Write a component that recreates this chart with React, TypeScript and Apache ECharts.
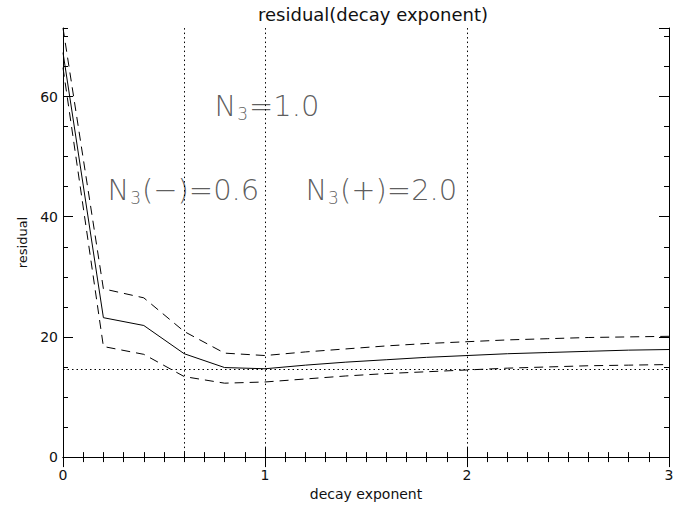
import React, { useEffect, useRef } from "react";
import * as echarts from "echarts";

const xValues = [0, 0.2, 0.4, 0.6, 0.8, 1.0, 1.2, 1.4, 1.6, 1.8, 2.0, 2.2, 2.4, 2.6, 2.8, 3.0];
const residual = [67.3, 23.2, 21.9, 17.2, 14.9, 14.7, 15.3, 15.8, 16.2, 16.6, 16.9, 17.2, 17.4, 17.6, 17.8, 17.9];
const residualUpper = [71.4, 28.0, 26.5, 20.9, 17.3, 16.9, 17.5, 18.0, 18.5, 18.9, 19.2, 19.5, 19.7, 19.9, 20.0, 20.1];
const residualLower = [64.8, 18.4, 17.1, 13.4, 12.3, 12.5, 13.0, 13.5, 13.9, 14.2, 14.5, 14.8, 15.0, 15.2, 15.3, 15.4];
const verticalMarks = [0.6, 1.0, 2.0];
const minResidual = 14.7;
const yMax = 71.4;
const annotations = [
  { x: 0.75, y: 58.5, text: "{n|N}{s|3}{n|=1.0}" },
  { x: 0.22, y: 44.5, text: "{n|N}{s|3}{n|(−)=0.6}" },
  { x: 1.2, y: 44.5, text: "{n|N}{s|3}{n|(+)=2.0}" },
];

const FONT = "DejaVu Sans";
const THIN_FONT = "'DejaVu Sans ExtraLight', 'DejaVu Sans'";

export default function App() {
  const ref = useRef<HTMLDivElement>(null);
  useEffect(() => {
    const chart = echarts.init(ref.current!, null, { renderer: "svg" });
    const pair = (ys: number[]) => xValues.map((x, i) => [x, ys[i]]);
    const black = "#000";
    const axisText = { color: "#111", fontFamily: FONT, fontSize: 14 };
    const xBase = {
      type: "value",
      min: 0,
      max: 3,
      interval: 1,
      axisLine: { show: true, lineStyle: { color: black, width: 1 } },
      axisTick: { show: true, inside: true, length: 10, lineStyle: { color: black } },
      minorTick: { show: true, splitNumber: 10, length: 5, lineStyle: { color: black } },
      splitLine: { show: false },
    };
    const yMajor = {
      type: "value",
      min: 0,
      max: yMax,
      interval: 20,
      axisLine: { show: true, lineStyle: { color: black, width: 1 } },
      axisTick: { show: true, inside: true, length: 10, lineStyle: { color: black } },
      splitLine: { show: false },
    };
    const yMinor = {
      type: "value",
      min: 0,
      max: yMax,
      interval: 5,
      axisLine: { show: false },
      axisTick: { show: true, inside: true, length: 5, lineStyle: { color: black } },
      axisLabel: { show: false },
      splitLine: { show: false },
    };
    chart.setOption({
      animation: false,
      backgroundColor: "#fff",
      title: {
        text: "residual(decay exponent)",
        left: 368,
        textAlign: "center",
        top: 0,
        textStyle: { color: "#111", fontFamily: FONT, fontSize: 18, fontWeight: "normal" },
      },
      grid: { left: 63, right: 21, top: 28, bottom: 47 },
      xAxis: [
        {
          ...xBase,
          position: "bottom",
          name: "decay exponent",
          nameLocation: "middle",
          nameGap: 28,
          nameTextStyle: { ...axisText },
          axisLabel: { ...axisText, margin: 11 },
        },
        { ...xBase, position: "top", axisLabel: { show: false } },
      ],
      yAxis: [
        {
          ...yMajor,
          position: "left",
          name: "residual",
          nameLocation: "middle",
          nameGap: 34,
          nameTextStyle: { ...axisText, fontSize: 13 },
          axisLabel: { ...axisText, margin: 5, showMaxLabel: false },
        },
        { ...yMinor, position: "left" },
        { ...yMajor, position: "right", axisLabel: { show: false } },
        { ...yMinor, position: "right" },
      ],
      series: [
        {
          type: "line",
          data: pair(residual),
          symbol: "none",
          lineStyle: { color: black, width: 1 },
          markLine: {
            silent: true,
            symbol: "none",
            label: { show: false },
            lineStyle: { color: black, type: [1.5, 3], width: 1 },
            data: [...verticalMarks.map((v) => ({ xAxis: v })), { yAxis: minResidual }],
          },
        },
        {
          type: "line",
          data: pair(residualUpper),
          symbol: "none",
          lineStyle: { color: black, width: 1, type: [9, 6] },
        },
        {
          type: "line",
          data: pair(residualLower),
          symbol: "none",
          lineStyle: { color: black, width: 1, type: [9, 6] },
        },
        {
          type: "scatter",
          symbolSize: 0,
          data: annotations.map((a) => ({ value: [a.x, a.y], name: a.text })),
          label: {
            show: true,
            position: "right",
            distance: 0,
            formatter: (p: any) => p.name,
            rich: {
              n: { fontFamily: THIN_FONT, fontSize: 29, color: "#333", fontWeight: 200 },
              s: { fontFamily: THIN_FONT, fontSize: 17, color: "#333", fontWeight: 200, padding: [16, 1, 0, 1] },
            },
          },
        },
      ],
    });
    return () => chart.dispose();
  }, []);
  return (
    <div
      ref={ref}
      style={{ position: "fixed", left: 0, top: 0, width: 690, height: 506 }}
    />
  );
}
